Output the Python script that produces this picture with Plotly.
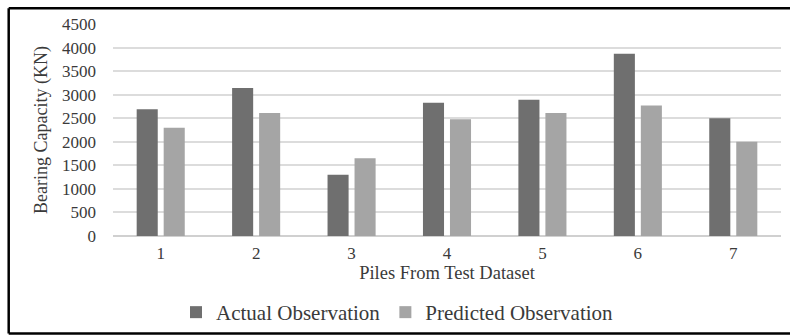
import plotly.graph_objects as go

# Piles from the test dataset and bearing capacities (KN)
piles = ["1", "2", "3", "4", "5", "6", "7"]
actual = [2690, 3140, 1300, 2830, 2890, 3870, 2500]
predicted = [2300, 2610, 1650, 2480, 2610, 2770, 2000]
y_ticks = [0, 500, 1000, 1500, 2000, 2500, 3000, 3500, 4000, 4500]

W, H = 790, 335
ML, MR, MT, MB = 113, 9, 24, 99
PW, PH = W - ML - MR, H - MT - MB

FONT = "Liberation Serif"


def px_to_paper_x(px):
    return (px - ML) / PW


def px_to_paper_y(py):
    return (H - MB - py) / PH


fig = go.Figure()
fig.add_trace(go.Bar(
    x=piles, y=actual, name="Actual Observation",
    marker=dict(color="#6f6f6f", line=dict(width=0)),
))
fig.add_trace(go.Bar(
    x=piles, y=predicted, name="Predicted Observation",
    marker=dict(color="#a5a5a5", line=dict(width=0)),
))

# frame around the chart (open on the right side)
frame = dict(type="line", xref="paper", yref="paper",
             line=dict(color="#000000", width=2.5))
x_left = px_to_paper_x(8.7)
x_right = px_to_paper_x(W + 5)
y_top = px_to_paper_y(8.2)
y_bot = px_to_paper_y(333.6)
shapes = [
    dict(frame, x0=x_left, x1=x_right, y0=y_top, y1=y_top),
    dict(frame, x0=x_left, x1=x_right, y0=y_bot, y1=y_bot),
    dict(frame, x0=x_left, x1=x_left, y0=y_top, y1=y_bot),
]

fig.update_layout(
    width=W, height=H,
    margin=dict(l=ML, r=MR, t=MT, b=MB, pad=0, autoexpand=False),
    paper_bgcolor="white", plot_bgcolor="white",
    barmode="group", bargap=0.434, bargroupgap=0.22,
    font=dict(family=FONT, color="#404040"),
    shapes=shapes,
    showlegend=True,
    legend=dict(
        orientation="h",
        x=px_to_paper_x(176), xanchor="left",
        y=px_to_paper_y(312.5), yanchor="middle",
        font=dict(family=FONT, size=21, color="#3a3a3a"),
        itemclick=False, bgcolor="rgba(0,0,0,0)",
        tracegroupgap=0,
    ),
    xaxis=dict(
        type="category",
        showgrid=False, showline=False, ticks="",
        ticklabelstandoff=5, automargin=False,
        tickfont=dict(family=FONT, size=17, color="#3a3a3a"),
        title=dict(text="Piles From Test Dataset",
                   font=dict(family=FONT, size=18.5, color="#3a3a3a"),
                   standoff=4),
    ),
    yaxis=dict(
        range=[0, 4500], tickvals=y_ticks,
        showgrid=True, gridcolor="#dcdcdc", gridwidth=1.5,
        zeroline=True, zerolinecolor="#d0d0d0", zerolinewidth=1.5,
        showline=False, ticks="", ticklabelstandoff=16, automargin=False,
        tickfont=dict(family=FONT, size=17, color="#3a3a3a"),
        title=dict(text="Bearing Capacity (KN)",
                   font=dict(family=FONT, size=18, color="#3a3a3a"),
                   standoff=9),
    ),
)

fig.write_html("out.html")
